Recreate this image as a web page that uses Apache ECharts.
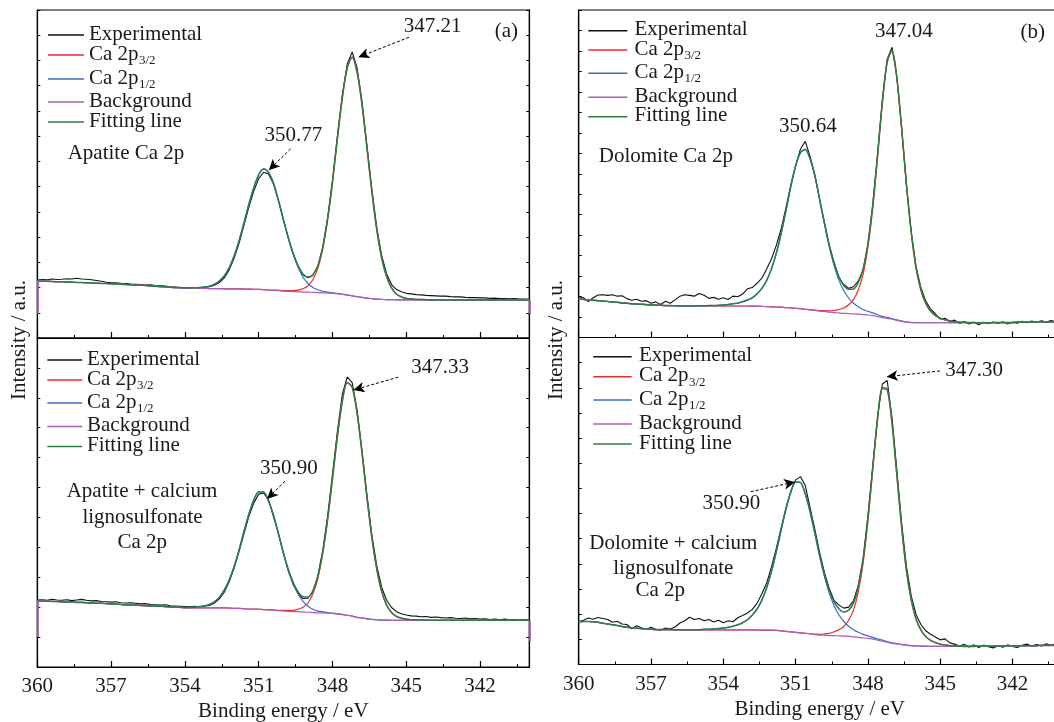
<!DOCTYPE html>
<html>
<head>
<meta charset="utf-8">
<title>Ca 2p XPS spectra</title>
<script src="https://cdn.jsdelivr.net/npm/echarts@6.0.0/dist/echarts.min.js"></script>
<style>
  html, body { margin: 0; padding: 0; background: #ffffff; }
  #chart { width: 1054px; height: 722px; }
</style>
</head>
<body>
<div id="chart"></div>
<script>
// Binding-energy grid shared by every spectrum (eV)
const energy = [
  360,359.8,359.6,359.4,359.2,359,358.8,358.6,358.4,358.2,
  358,357.8,357.6,357.4,357.2,357,356.8,356.6,356.4,356.2,
  356,355.8,355.6,355.4,355.2,355,354.8,354.6,354.4,354.2,
  354,353.8,353.6,353.4,353.2,353,352.8,352.6,352.4,352.2,
  352,351.8,351.6,351.4,351.2,351,350.8,350.6,350.4,350.2,
  350,349.8,349.6,349.4,349.2,349,348.8,348.6,348.4,348.2,
  348,347.8,347.6,347.4,347.2,347,346.8,346.6,346.4,346.2,
  346,345.8,345.6,345.4,345.2,345,344.8,344.6,344.4,344.2,
  344,343.8,343.6,343.4,343.2,343,342.8,342.6,342.4,342.2,
  342,341.8,341.6,341.4,341.2,341,340.8,340.6,340.4,340.2,
  340
];
const energyTicks = [360, 357, 354, 351, 348, 345, 342];
const energyMinorTicks = [358.5, 355.5, 352.5, 349.5, 346.5, 343.5, 340.5];

// (a) Apatite Ca 2p
const apatiteExp = [
  23.0,23.2,23.1,23.4,23.2,23.3,23.5,23.4,23.7,23.4,
  23.3,23.1,22.8,22.5,22.1,21.9,21.9,21.7,21.6,21.4,
  21.3,21.2,21.0,21.1,20.8,20.7,20.6,20.3,20.2,20.0,
  19.8,19.9,19.8,20.0,20.1,20.3,20.9,22.0,23.8,27.0,
  31.6,37.5,44.6,51.9,58.2,63.2,65.7,65.0,61.0,54.5,
  47.0,39.8,33.4,28.4,25.1,23.9,24.8,28.4,35.8,47.5,
  62.6,80.2,96.6,108.6,113.4,107.0,93.8,76.4,58.9,43.8,
  32.6,25.4,21.2,19.2,18.3,17.7,17.5,17.2,17.1,16.9,
  16.8,16.7,16.6,16.6,16.4,16.3,16.3,16.1,16.0,16.0,
  15.9,15.9,15.7,15.8,15.6,15.6,15.5,15.6,15.4,15.4,
  15.3
];
const apatiteBg = [
  22.6,22.5,22.5,22.4,22.3,22.3,22.2,22.1,22.0,22.0,
  21.9,21.8,21.7,21.6,21.6,21.5,21.4,21.3,21.2,21.1,
  21.0,20.9,20.8,20.6,20.5,20.4,20.3,20.1,20.0,19.9,
  19.8,19.8,19.7,19.7,19.7,19.6,19.6,19.6,19.5,19.5,
  19.5,19.5,19.4,19.4,19.3,19.3,19.2,19.0,18.9,18.8,
  18.6,18.5,18.4,18.3,18.2,18.2,18.1,18.0,17.9,17.8,
  17.7,17.5,17.3,17.0,16.7,16.4,16.1,15.8,15.6,15.4,
  15.3,15.2,15.2,15.1,15.1,15.1,15.1,15.1,15.1,15.1,
  15.1,15.1,15.1,15.1,15.1,15.1,15.1,15.1,15.1,15.1,
  15.1,15.1,15.1,15.1,15.1,15.1,15.1,15.1,15.1,15.1,
  15.1
];
const apatite32 = [
  0,0,0,0,0,0,0,0,0,0,
  0,0,0,0,0,0,0,0,0,0,
  0,0,0,0,0,0,0,0,0,0,
  0,0,0,0,0,0,0,0,0,0,
  0,0,0,0,0,0,0,0,0.1,0.1,
  0.2,0.3,0.4,0.7,1.3,2.5,5.0,9.4,17.2,28.9,
  44.0,61.5,77.9,90.0,94.6,88.9,76.4,59.6,42.4,27.5,
  16.3,9.1,4.7,2.3,1.2,0.6,0.4,0.2,0.2,0.1,
  0,0,0,0,0,0,0,0,0,0,
  0,0,0,0,0,0,0,0,0,0,
  0
];
const apatite12 = [
  0,0,0,0,0,0,0,0,0,0,
  0,0,0,0,0,0,0,0,0,0,
  0,0,0,0,0,0,0,0,0,0.1,
  0.1,0.1,0.2,0.3,0.5,0.9,1.7,3.0,5.1,8.3,
  13.0,19.0,26.2,33.6,40.3,45.4,47.8,46.6,42.4,35.8,
  28.4,21.1,14.8,9.7,5.9,3.5,1.9,1.1,0.6,0.4,
  0.2,0.2,0.1,0.1,0,0,0,0,0,0,
  0,0,0,0,0,0,0,0,0,0,
  0,0,0,0,0,0,0,0,0,0,
  0,0,0,0,0,0,0,0,0,0,
  0
];
const apatiteBgEnds = [9.5, 9.5];
const apatitePeaks = [347.21, 350.77];

// (a) Apatite + calcium lignosulfonate Ca 2p
const apatiteLsExp = [
  22.4,22.5,22.3,22.6,22.4,22.3,22.5,22.2,22.4,22.6,
  22.3,22.1,22.2,21.9,21.8,21.7,21.8,21.5,21.4,21.5,
  21.3,21.1,21.2,20.9,20.8,20.7,20.8,20.5,20.4,20.3,
  20.2,20.1,20.3,20.1,20.4,20.6,21.4,22.8,25.0,28.5,
  33.0,38.6,44.5,50.4,54.8,57.8,58.2,55.9,50.3,44.8,
  38.0,32.2,27.6,24.6,22.9,23.0,25.2,30.3,38.8,50.4,
  64.5,78.9,91.2,97.0,95.1,85.9,72.4,57.6,44.2,33.8,
  26.6,22.3,19.9,18.5,17.8,17.4,17.1,17.0,16.8,16.9,
  16.6,16.7,16.5,16.4,16.5,16.3,16.2,16.4,16.1,16.2,
  16.0,16.1,15.9,16.0,15.8,16.0,15.8,15.9,15.7,15.9,
  15.8
];
const apatiteLsBg = [
  22.1,22.0,22.0,21.9,21.9,21.8,21.7,21.7,21.6,21.6,
  21.5,21.4,21.3,21.3,21.2,21.1,21.0,20.9,20.8,20.8,
  20.7,20.6,20.5,20.4,20.3,20.3,20.2,20.1,20.0,19.9,
  19.8,19.8,19.8,19.8,19.8,19.8,19.8,19.8,19.8,19.7,
  19.6,19.6,19.5,19.4,19.4,19.3,19.2,19.1,19.0,18.8,
  18.7,18.6,18.5,18.5,18.4,18.3,18.2,18.1,18.1,18.0,
  17.9,17.7,17.5,17.3,17.0,16.6,16.4,16.1,15.9,15.8,
  15.7,15.7,15.6,15.6,15.6,15.6,15.6,15.6,15.6,15.6,
  15.6,15.6,15.6,15.6,15.6,15.6,15.6,15.6,15.6,15.6,
  15.6,15.6,15.6,15.6,15.6,15.6,15.6,15.6,15.6,15.6,
  15.6
];
const apatiteLs32 = [
  0,0,0,0,0,0,0,0,0,0,
  0,0,0,0,0,0,0,0,0,0,
  0,0,0,0,0,0,0,0,0,0,
  0,0,0,0,0,0,0,0,0,0,
  0,0,0,0,0,0,0,0,0.1,0.1,
  0.2,0.3,0.4,0.8,1.6,3.1,6.2,11.4,19.7,31.1,
  45.0,59.4,71.3,77.8,76.5,68.2,55.2,40.6,27.4,16.9,
  9.5,5.0,2.6,1.3,0.7,0.4,0.2,0.2,0.1,0.1,
  0,0,0,0,0,0,0,0,0,0,
  0,0,0,0,0,0,0,0,0,0,
  0
];
const apatiteLs12 = [
  0,0,0,0,0,0,0,0,0,0,
  0,0,0,0,0,0,0,0,0,0,
  0,0,0,0,0,0,0,0,0,0.1,
  0.1,0.1,0.2,0.4,0.6,1.1,2.0,3.5,5.9,9.4,
  13.9,19.5,25.8,31.7,36.4,39.3,39.3,36.4,31.7,25.8,
  19.5,13.9,9.4,5.9,3.5,2.0,1.1,0.6,0.4,0.2,
  0.1,0.1,0.1,0,0,0,0,0,0,0,
  0,0,0,0,0,0,0,0,0,0,
  0,0,0,0,0,0,0,0,0,0,
  0,0,0,0,0,0,0,0,0,0,
  0
];
const apatiteLsBgEnds = [10.1, 8.7];
const apatiteLsPeaks = [347.33, 350.90];

// (b) Dolomite Ca 2p
const dolomiteExp = [
  19.9,19.4,17.5,19.4,20.8,20.9,20.6,20.9,20.2,20.4,
  19.0,18.2,18.7,17.7,18.0,16.7,17.4,16.1,17.7,16.7,
  18.4,20.2,20.9,20.6,20.2,21.5,20.6,19.1,19.6,18.7,
  19.4,18.6,20.2,19.9,21.2,23.8,24.4,26.5,29.0,33.5,
  38.5,45.0,53.0,63.5,74.5,84.0,92.0,95.8,88.5,79.4,
  67.2,55.9,45.0,36.6,29.2,25.9,24.0,24.8,27.5,33.0,
  45.5,64.9,89.6,116.2,136.0,141.8,127.4,102.0,74.0,51.4,
  34.6,24.3,17.8,13.9,11.6,9.0,9.4,7.8,8.5,6.9,
  7.8,6.6,7.5,6.2,7.4,6.8,7.6,6.9,7.7,6.6,
  7.5,7.0,7.9,7.2,8.0,7.4,8.2,7.6,8.3,7.7,
  8.1
];
const dolomiteBg = [
  18.8,18.6,18.4,18.2,18.0,17.8,17.6,17.4,17.2,16.9,
  16.7,16.5,16.4,16.2,16.1,15.9,15.8,15.7,15.6,15.6,
  15.5,15.4,15.4,15.4,15.4,15.4,15.4,15.4,15.4,15.4,
  15.4,15.4,15.4,15.4,15.4,15.4,15.3,15.3,15.2,15.1,
  15.0,14.9,14.8,14.6,14.5,14.3,14.1,13.8,13.5,13.2,
  12.9,12.7,12.4,12.2,12.0,11.8,11.7,11.5,11.4,11.2,
  11.0,10.7,10.2,9.7,9.3,8.9,8.4,7.9,7.5,7.3,
  7.2,7.2,7.2,7.2,7.2,7.2,7.2,7.2,7.2,7.2,
  7.2,7.2,7.2,7.2,7.2,7.2,7.3,7.3,7.3,7.3,
  7.3,7.5,7.5,7.5,7.5,7.5,7.6,7.6,7.6,7.6,
  7.6
];
const dolomite32 = [
  0,0,0,0,0,0,0,0,0,0,
  0,0,0,0,0,0,0,0,0,0,
  0,0,0,0,0,0,0,0,0,0,
  0,0,0,0,0,0,0,0,0,0,
  0,0,0,0,0,0,0,0,0,0.2,
  0.2,0.4,0.6,1.0,1.7,2.6,4.3,7.0,11.8,19.7,
  33.0,52.3,77.8,104.7,125.1,131.1,118.4,94.4,67.2,43.9,
  26.7,16.0,9.5,5.7,3.5,2.2,1.4,0.9,0.5,0.3,
  0.2,0.1,0.1,0,0,0,0,0,0,0,
  0,0,0,0,0,0,0,0,0,0,
  0
];
const dolomite12 = [
  0,0,0,0,0,0,0,0,0,0,
  0,0,0,0,0,0,0,0,0,0,
  0,0,0,0,0,0.1,0.1,0.2,0.2,0.3,
  0.5,0.7,1.1,1.4,2.1,2.9,4.1,6.0,8.8,12.8,
  18.6,26.3,36.0,47.4,59.2,69.5,76.2,78.1,73.8,65.5,
  54.3,42.6,31.8,22.8,15.9,11.0,7.6,5.2,3.6,2.5,
  1.8,1.3,0.9,0.6,0.5,0.3,0.2,0.2,0.1,0.1,
  0,0,0,0,0,0,0,0,0,0,
  0,0,0,0,0,0,0,0,0,0,
  0,0,0,0,0,0,0,0,0,0,
  0
];
const dolomitePeaks = [347.04, 350.64];

// (b) Dolomite + calcium lignosulfonate Ca 2p
const dolomiteLsExp = [
  17.0,17.6,18.5,18.0,18.7,18.3,17.9,16.8,17.2,16.1,
  15.9,14.2,15.4,14.6,13.9,14.8,14.0,13.6,14.5,14.1,
  14.9,16.5,17.4,18.8,17.9,18.3,17.4,17.9,16.9,17.6,
  16.6,17.4,17.0,18.6,19.5,20.5,21.9,24.3,28.1,32.4,
  38.8,46.2,54.3,62.2,68.9,73.4,74.7,71.2,62.4,53.6,
  44.4,36.4,30.1,25.4,23.6,22.4,22.8,25.3,31.4,42.1,
  58.9,79.0,98.6,111.5,112.9,98.2,77.3,56.2,38.9,27.2,
  19.8,15.9,13.4,12.0,10.9,9.8,10.2,8.6,8.1,7.3,
  8.0,7.0,7.8,6.8,7.7,7.1,6.6,7.5,6.9,7.8,
  7.2,6.8,7.6,8.1,7.3,7.9,7.4,8.2,7.6,8.3,
  7.9
];
const dolomiteLsBg = [
  17.0,17.1,17.1,17.0,16.8,16.4,16.1,15.8,15.5,15.1,
  14.8,14.6,14.4,14.3,14.1,14.0,13.9,13.9,13.9,13.9,
  13.8,13.8,13.8,13.8,13.8,13.8,13.8,13.8,13.8,13.8,
  13.8,13.8,13.8,13.8,13.8,13.8,13.8,13.7,13.7,13.7,
  13.7,13.6,13.4,13.2,13.0,12.8,12.6,12.4,12.2,11.9,
  11.7,11.6,11.5,11.5,11.4,11.3,11.2,11.0,10.8,10.6,
  10.4,10.1,9.7,9.3,8.9,8.4,8.2,7.9,7.7,7.5,
  7.4,7.3,7.3,7.2,7.2,7.2,7.2,7.2,7.2,7.2,
  7.2,7.2,7.2,7.3,7.3,7.3,7.3,7.4,7.4,7.4,
  7.4,7.5,7.5,7.5,7.5,7.5,7.6,7.6,7.6,7.6,
  7.6
];
const dolomiteLs32 = [
  0,0,0,0,0,0,0,0,0,0,
  0,0,0,0,0,0,0,0,0,0,
  0,0,0,0,0,0,0,0,0,0,
  0,0,0,0,0,0,0,0,0,0,
  0,0,0,0,0,0,0,0,0,0.2,
  0.3,0.6,0.9,1.5,2.4,3.8,6.4,10.6,18.1,29.6,
  46.6,67.2,87.4,100.3,100.3,87.4,67.2,46.6,29.6,18.1,
  10.6,6.4,3.8,2.4,1.5,0.9,0.6,0.3,0.2,0.1,
  0,0,0,0,0,0,0,0,0,0,
  0,0,0,0,0,0,0,0,0,0,
  0
];
const dolomiteLs12 = [
  0,0,0,0,0,0,0,0,0,0,
  0,0,0,0,0,0,0,0,0,0,
  0,0,0,0,0,0,0.2,0.2,0.4,0.5,
  0.7,1.0,1.4,2.0,2.8,4.0,5.8,8.3,11.9,16.8,
  23.3,31.3,40.1,48.6,55.5,59.8,59.8,55.5,48.6,40.1,
  31.3,23.3,16.8,11.9,8.3,5.8,4.0,2.8,2.0,1.4,
  1.0,0.7,0.5,0.4,0.2,0.2,0.1,0.1,0,0,
  0,0,0,0,0,0,0,0,0,0,
  0,0,0,0,0,0,0,0,0,0,
  0,0,0,0,0,0,0,0,0,0,
  0
];
const dolomiteLsPeaks = [347.30, 350.90];

// ---------------------------------------------------------------------------
const FONT = 'Liberation Serif';
const TXT = '#1a1a1a';
const COL = { exp: '#111111', p32: '#ee2b2b', p12: '#3b6cc8', bg: '#ad5cbd', fit: '#2f7d46' };

const panels = [
  { box: { left: 37.3, top: 10, width: 492, height: 328 }, yMax: 130, labels: false,
    exp: apatiteExp, bg: apatiteBg, p32: apatite32, p12: apatite12, bgEnds: apatiteBgEnds, peaks: apatitePeaks,
    notes: [
      { text: [343.93, 123.5], tail: [344.89, 119.2], tip: [-0.26, 0] },
      { text: [349.59, 80.4], tail: [349.70, 75.0], tip: [-0.18, -0.5] }
    ] },
  { box: { left: 37.3, top: 338, width: 492, height: 329 }, yMax: 110, labels: true,
    exp: apatiteLsExp, bg: apatiteLsBg, p32: apatiteLs32, p12: apatiteLs12, bgEnds: apatiteLsBgEnds, peaks: apatiteLsPeaks,
    notes: [
      { text: [343.62, 100.0], tail: [345.33, 96.9], tip: [-0.18, -2.5] },
      { text: [349.77, 66.4], tail: [349.93, 62.1], tip: [-0.24, -2.4] }
    ] },
  { box: { left: 578.7, top: 10, width: 482, height: 327.5 }, yMax: 160, labels: false,
    exp: dolomiteExp, bg: dolomiteBg, p32: dolomite32, p12: dolomite12, bgEnds: null, peaks: dolomitePeaks,
    notes: [ { text: [346.51, 149.4] }, { text: [350.49, 103.0] } ] },
  { box: { left: 578.7, top: 337.5, width: 482, height: 327 }, yMax: 130, labels: true,
    exp: dolomiteLsExp, bg: dolomiteLsBg, p32: dolomiteLs32, p12: dolomiteLs12, bgEnds: null, peaks: dolomiteLsPeaks,
    notes: [
      { text: [343.59, 116.7], tail: [345.01, 116.7], tip: [-0.08, 4.4] },
      { text: [353.67, 64.1], tail: [352.86, 68.7], tip: [0.12, 0] }
    ] }
];

const pairs = arr => energy.map((e, i) => [e, arr[i]]);
const stack = (...arrs) => energy.map((e, i) =>
  [e, Math.round(arrs.reduce((s, a) => s + a[i], 0) * 100) / 100]);
function topNear(curve, center) {
  let best = -Infinity;
  curve.forEach(([e, v]) => { if (Math.abs(e - center) <= 0.3 && v > best) best = v; });
  return best;
}

const grids = [], xAxes = [], xMinor = [], yLeft = [], yRight = [], series = [];

panels.forEach((p, g) => {
  grids.push(Object.assign({ show: true, borderColor: '#000', borderWidth: 1.2,
    backgroundColor: 'transparent', containLabel: false, outerBoundsMode: 'none' }, p.box));

  xAxes.push({
    type: 'value', gridIndex: g, min: 340, max: 360, inverse: true, position: 'bottom',
    axisLine: { show: true, onZero: false, lineStyle: { color: '#000', width: 1.2 } },
    axisTick: { show: true, inside: true, length: 6, customValues: energyTicks, lineStyle: { color: '#000', width: 1.2 } },
    axisLabel: { show: p.labels, margin: 9, customValues: energyTicks, fontSize: 21, fontFamily: FONT, color: TXT },
    splitLine: { show: false },
    name: p.labels ? 'Binding energy / eV' : '', nameLocation: 'middle', nameGap: 34,
    nameTextStyle: { fontSize: 21, fontFamily: FONT, color: TXT }
  });
  xMinor.push({
    type: 'value', gridIndex: g, min: 340, max: 360, inverse: true, position: 'bottom',
    axisLine: { show: false, onZero: false },
    axisTick: { show: true, inside: true, length: 3, customValues: energyMinorTicks, lineStyle: { color: '#000', width: 1 } },
    axisLabel: { show: false }, splitLine: { show: false }
  });
  const yBase = {
    type: 'value', gridIndex: g, min: 0, max: p.yMax, interval: 10,
    axisLine: { show: true, onZero: false, lineStyle: { color: '#000', width: 1.2 } },
    axisTick: { show: true, inside: true, length: 3, lineStyle: { color: '#000', width: 1 } },
    axisLabel: { show: false }, splitLine: { show: false }
  };
  yLeft.push(Object.assign({ position: 'left' }, yBase));
  yRight.push(Object.assign({ position: 'right' }, yBase));

  const fit = stack(p.bg, p.p32, p.p12);
  const base = { type: 'line', xAxisIndex: g, yAxisIndex: g, symbol: 'none', showSymbol: false,
    silent: true, animation: false, clip: true };

  // peak-position labels and arrows
  const arrows = [], texts = [];
  p.notes.forEach((n, k) => {
    const center = p.peaks[k];
    texts.push({ name: center.toFixed(2), coord: n.text });
    if (n.tail) {
      arrows.push([{ coord: n.tail }, { coord: [center + n.tip[0], topNear(fit, center) + n.tip[1]] }]);
    }
  });

  series.push(Object.assign({}, base, {
    name: 'Experimental', data: pairs(p.exp),
    lineStyle: { color: COL.exp, width: 1.1 }, itemStyle: { color: COL.exp },
    markLine: {
      silent: true, animation: false, symbol: ['none', 'arrow'], symbolSize: [8, 11],
      lineStyle: { color: '#000', width: 1, type: [3, 2] }, label: { show: false },
      emphasis: { disabled: true }, data: arrows
    },
    markPoint: {
      silent: true, animation: false, symbol: 'circle', symbolSize: 1,
      itemStyle: { color: 'rgba(0,0,0,0)' },
      label: { show: true, position: 'inside', fontSize: 21, fontFamily: FONT, color: TXT,
        formatter: d => d.name },
      data: texts
    }
  }));
  series.push(Object.assign({}, base, {
    name: 'Ca 2p3/2', data: stack(p.bg, p.p32), smooth: 0.3,
    lineStyle: { color: COL.p32, width: 1.2 }, itemStyle: { color: COL.p32 }
  }));
  series.push(Object.assign({}, base, {
    name: 'Ca 2p1/2', data: stack(p.bg, p.p12), smooth: 0.3,
    lineStyle: { color: COL.p12, width: 1.2 }, itemStyle: { color: COL.p12 }
  }));
  const bgSeries = Object.assign({}, base, {
    name: 'Background', data: pairs(p.bg), smooth: 0.3,
    lineStyle: { color: COL.bg, width: 1.2 }, itemStyle: { color: COL.bg }
  });
  if (p.bgEnds) {
    bgSeries.markLine = {
      silent: true, animation: false, symbol: ['none', 'none'],
      lineStyle: { color: COL.bg, width: 1.8, type: 'solid' }, label: { show: false },
      emphasis: { disabled: true },
      data: [
        [{ coord: [360, p.bg[0]] }, { coord: [360, p.bgEnds[0]] }],
        [{ coord: [340, p.bg[p.bg.length - 1]] }, { coord: [340, p.bgEnds[1]] }]
      ]
    };
  }
  series.push(bgSeries);
  series.push(Object.assign({}, base, {
    name: 'Fitting line', data: fit, smooth: 0.3,
    lineStyle: { color: COL.fit, width: 1.5 }, itemStyle: { color: COL.fit }
  }));
});

// ---- text and legend overlays ----
const graphics = [];
function label(x, y, text, opts) {
  const o = opts || {};
  graphics.push({
    type: 'text', x, y, rotation: o.rot || 0, silent: true, z: 100,
    style: { text, fill: TXT, fontSize: o.size || 21, fontFamily: FONT,
      align: o.align || 'center', textAlign: o.align || 'center',
      verticalAlign: 'middle', textVerticalAlign: 'middle' }
  });
}
function legendBlock(x1, x2, tx, rows) {
  const items = [
    { name: 'Experimental', color: COL.exp },
    { name: 'Ca 2p', sub: '3/2', color: COL.p32 },
    { name: 'Ca 2p', sub: '1/2', color: COL.p12 },
    { name: 'Background', color: COL.bg },
    { name: 'Fitting line', color: COL.fit }
  ];
  items.forEach((it, k) => {
    const y = rows[k];
    graphics.push({ type: 'line', silent: true, z: 100,
      shape: { x1, y1: y, x2, y2: y }, style: { stroke: it.color, lineWidth: 1.6 } });
    label(tx, y - 1, it.name, { align: 'left' });
    if (it.sub) label(tx + 50, y + 5.5, it.sub, { align: 'left', size: 13 });
  });
}

legendBlock(48, 84, 89, [35, 55, 79, 102, 122]);
legendBlock(47.3, 82.2, 87, [360, 380, 403, 426.5, 446.5]);
legendBlock(588.3, 627.3, 634.5, [30.7, 50, 73.3, 97.3, 116.7]);
legendBlock(593.3, 631.7, 639, [356.7, 376.7, 400, 424, 444]);

label(506.3, 31, '(a)');
label(1032.7, 32.3, '(b)');
label(126, 153.8, 'Apatite Ca 2p');
label(142, 491.5, 'Apatite + calcium');
label(142.5, 517.5, 'lignosulfonate');
label(142.3, 542.8, 'Ca 2p');
label(665.8, 156, 'Dolomite Ca 2p');
label(673.3, 543.3, 'Dolomite + calcium');
label(673.3, 568.3, 'lignosulfonate');
label(660.3, 590, 'Ca 2p');
label(19, 340, 'Intensity / a.u.', { rot: Math.PI / 2 });
label(556, 340, 'Intensity / a.u.', { rot: Math.PI / 2 });

const chart = echarts.init(document.getElementById('chart'), null, { renderer: 'canvas' });
chart.setOption({
  animation: false,
  backgroundColor: '#ffffff',
  grid: grids,
  xAxis: xAxes.concat(xMinor),
  yAxis: yLeft.concat(yRight),
  series,
  graphic: graphics
});
</script>
</body>
</html>
